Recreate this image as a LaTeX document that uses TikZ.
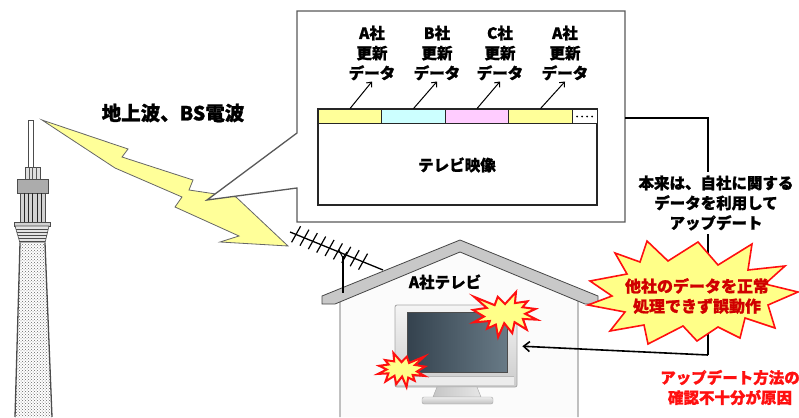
\documentclass[tikz,border=0pt]{standalone}
\usepackage{fontspec}
\setmainfont{Noto Sans CJK JP}[BoldFeatures={FakeBold=1.2}]
\usetikzlibrary{arrows.meta,patterns,calc}
\definecolor{boltyellow}{HTML}{FFFF99}
\definecolor{segyellow}{HTML}{FFFF99}
\definecolor{segcyan}{HTML}{CCFFFF}
\definecolor{segpink}{HTML}{FFCCFF}
\definecolor{burstfill}{HTML}{FFFF88}
\definecolor{alarm}{HTML}{FF1010}
\definecolor{alarmtext}{HTML}{D00000}
\definecolor{roofgray}{HTML}{C8C8C8}
\newcommand\lblfont{\fontsize{15.5}{20}\selectfont\bfseries}
\tikzset{
  towerline/.style={draw=gray!60!black, line width=0.6pt},
  boltstyle/.style={draw=gray!80!black, fill=boltyellow, line width=0.8pt, line join=miter},
  calloutstyle/.style={draw=gray!70!black, fill=white, line width=1.3pt},
  seg/.style={draw=gray!30!black, line width=0.9pt, minimum height=14pt, inner sep=0pt},
  lbl/.style={font=\lblfont, align=center, inner sep=1pt},
  conn/.style={draw=black, line width=1.6pt},
  smallarrow/.style={draw=black, line width=1pt, -{Straight Barb[length=4pt,width=7pt]}},
  burststyle/.style={draw=alarm, fill=burstfill, line width=1.6pt, line join=miter},
  seal/.pic={
    \path[pic actions] (108,58) -- (145.22,0) -- (141.55,53.25) -- (183.8,44.57)
      -- (167.02,73.15) -- (210.97,81.37) -- (176.07,104.75) -- (216,132.9)
      -- (168.37,129.42) -- (181.45,180.95) -- (140.2,144.57) -- (132.47,197.37)
      -- (105.32,149.35) -- (84.85,216) -- (77.15,156.27) -- (47.62,176.17)
      -- (56.67,139.37) -- (1.35,145.87) -- (37.22,117.75) -- (0,86.15)
      -- (46.27,76.17) -- (3.7,22.95) -- (73.12,63.2) -- (83.52,22.95) -- cycle;
  }
}
\begin{document}
\begin{tikzpicture}[x=1pt,y=-1pt]
\useasboundingbox (0,0) rectangle (799,417);

% ---------------- broadcast tower ----------------
\draw[towerline, fill=white] (28,120) rectangle (33,167);
\draw[towerline, fill=gray!25] (25,167) rectangle (40,179);
\foreach \x in {29,32.5,36} \draw[gray!70!black, line width=0.5pt] (\x,167) -- (\x,179);
\draw[towerline, fill=gray!65] (17,179) rectangle (48,193);
\draw[towerline, fill=gray!35] (20,193) rectangle (45,222);
\foreach \x in {24,28,32.5,37,41} \draw[gray!30!black, line width=0.8pt] (\x,193) -- (\x,222);
\draw[towerline, fill=gray!35] (14,222) rectangle (50,226);
\draw[towerline, fill=gray!20] (15,226) -- (49,226) -- (45,243) -- (20,243) -- cycle;
\foreach \y in {229,232,235,238,241}
  \draw[gray!60!black, line width=0.6pt] ({15+(\y-226)*5/17},\y) -- ({49-(\y-226)*4/17},\y);
\fill[white] (20,243) -- (45,243) -- (52,417) -- (15,417) -- cycle;
\fill[pattern=crosshatch dots, pattern color=gray!80!black] (20,243) -- (45,243) -- (52,417) -- (15,417) -- cycle;
\draw[gray!60!black, line width=1.3pt] (20,243) -- (15,417) (45,243) -- (52,417);

% ---------------- radio wave bolt ----------------
\draw[boltstyle] (42,120) -- (128,149) -- (122,157) -- (193,180) -- (189,190) -- (236,197)
  -- (288,246) -- (220,242) -- (239,236) -- (175,207) -- (182,197) -- (115,168) -- cycle;
\node[lbl, font=\fontsize{19.5}{22}\selectfont\bfseries] (wave) at (173,113) {地上波、BS電波};

% ---------------- signal callout ----------------
\draw[calloutstyle] (297,133) -- (297,11) -- (625,11) -- (625,222) -- (297,222) -- (297,188) -- (207,200) -- cycle;
\coordinate (calloutR) at (625,118);

\draw[draw=gray!30!black, line width=1.5pt, fill=white] (318,109) rectangle (597,205);
\node[seg, fill=segyellow, minimum width=63.5pt] (s1) at (350,116) {};
\node[seg, fill=segcyan,   minimum width=63.5pt] (s2) at (413.5,116) {};
\node[seg, fill=segpink,   minimum width=63.5pt] (s3) at (477,116) {};
\node[seg, fill=segyellow, minimum width=63.5pt] (s4) at (540.5,116) {};
\node[seg, fill=white,     minimum width=25pt]   (s5) at (584.5,116) {};
\foreach \x in {577,582,587,592} \fill (\x,116.5) circle (1pt);
\node[lbl] (tvimage) at (457,165) {テレビ映像};

\node[lbl] (l1) at (372,53) {A社\\更新\\データ};
\node[lbl] (l2) at (437,53) {B社\\更新\\データ};
\node[lbl] (l3) at (500,53) {C社\\更新\\データ};
\node[lbl] (l4) at (565,53) {A社\\更新\\データ};
\draw[smallarrow] (s1.north) -- (l1.south);
\draw[smallarrow] (s2.north) -- (l2.south);
\draw[smallarrow] (s3.north) -- (l3.south);
\draw[smallarrow] (s4.north) -- (l4.south);

% ---------------- house ----------------
\draw[draw=gray!75, line width=1.2pt, fill=gray!3] (340,417) -- (340,300) -- (460,250) -- (578,300) -- (578,417);
\draw[draw=gray!55!black, line width=0.8pt, fill=roofgray]
  (322,296) -- (460,240) -- (598,296) -- (598,304) -- (585,304) -- (460,252) -- (335,304) -- (322,304) -- cycle;
\node[lbl] (housetv) at (445,282) {A社テレビ};

% antenna
\coordinate (boomA) at (290,232);
\coordinate (boomB) at (383,270);
\draw[line width=1.3pt] (boomA) -- (boomB);
\foreach \t in {0.06,0.15,0.24,0.33,0.42,0.51,0.60,0.69,0.78}
  \draw[line width=1.2pt] ($(boomA)!\t!(boomB)+(5,-8)$) -- ($(boomA)!\t!(boomB)+(-4,8)$);
\draw[line width=1.6pt] (343,256) -- (343,293);
\draw[line width=1.1pt] (339,250) -- (343,258) -- (347,252);

% television set
\node[draw=gray!70, line width=0.8pt, rounded corners=2pt, top color=gray!8, bottom color=gray!40,
      minimum width=122pt, minimum height=82pt, inner sep=0pt] (tv) at (456,346) {};
\fill[gray!15] (398,376) rectangle (514,385);
\draw[gray!55, line width=0.5pt] (398,376) -- (514,376);
\shade[left color=gray!45, right color=gray!20, draw=gray!70] (437,387) -- (477,387) -- (481,397) -- (433,397) -- cycle;
\shade[top color=gray!15, bottom color=gray!50, draw=gray!70, rounded corners=2pt] (422,397) rectangle (493,404);
\shade[left color={rgb,255:red,52;green,66;blue,78}, right color={rgb,255:red,104;green,122;blue,134},
       draw=gray!60!black, line width=0.8pt] (407,312) rectangle (507,372);

% ---------------- explanation path ----------------
\coordinate (drop) at (708,118);
\coordinate (turn) at (708,355);
\draw[conn] (calloutR) -- (drop) -- (turn);
\draw[conn, -{Straight Barb[length=6pt,width=10pt]}, shorten >=5pt] (turn) -- (tv.east);
\node[lbl, fill=white, inner sep=4pt] (note) at (716,203) {本来は、自社に関する\\データを利用して\\アップデート};

% bursts
\draw[burststyle] (590,281) -- (627,274) -- (615,253) -- (640,262) -- (647,241) -- (668,261)
  -- (698,242) -- (718,265) -- (752,244) -- (748,270) -- (785,266) -- (765,284) -- (798,292)
  -- (768,305) -- (775,328) -- (745,318) -- (740,338) -- (718,327) -- (697,341) -- (683,326)
  -- (648,344) -- (644,325) -- (610,331) -- (625,312) -- (588,305) -- (612,296) -- cycle;
\node[lbl, text=alarmtext, font=\fontsize{16}{20}\selectfont\bfseries] (fault) at (697,296) {他社のデータを正常\\処理できず誤動作};

\pic[burststyle, line width=2pt, xscale=64/216, yscale=45/216] at (473,292) {seal};
\pic[burststyle, line width=2pt, xscale=-47/216, yscale=34/216] at (425,353) {seal};

\node[lbl, text=alarm] (cause) at (730,387.5) {アップデート方法の\\確認不十分が原因};
\end{tikzpicture}
\end{document}
